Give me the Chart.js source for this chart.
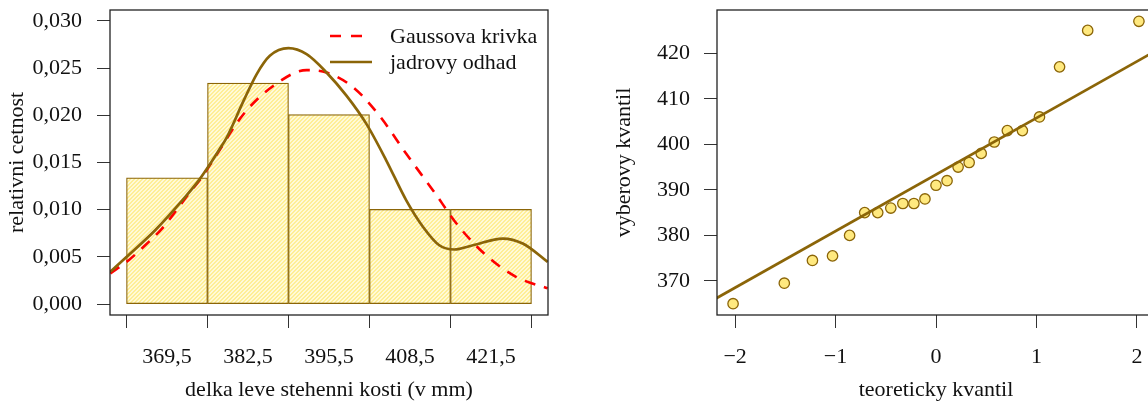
<!DOCTYPE html>
<html>
<head>
<meta charset="utf-8">
<script src="https://cdn.jsdelivr.net/npm/chart.js@4.4.0/dist/chart.umd.min.js"></script>
<style>
    html, body { margin: 0; padding: 0; background: #fff; overflow: hidden; width: 1148px; height: 404px; }
    #histChart { position: absolute; left: 0; top: 0; }
    #qqChart { position: absolute; left: 574px; top: 0; }
</style>
</head>
<body>
<canvas id="histChart" width="574" height="404"></canvas>
<canvas id="qqChart" width="610" height="404"></canvas>
<script>
// ------------------------------------
// Data
// ------------------------------------
const binCenters = [369.5, 382.5, 395.5, 408.5, 421.5];
const binDensity = [0.01338, 0.02341, 0.02007, 0.01003, 0.01003];
const histYTicks = [0, 0.005, 0.010, 0.015, 0.020, 0.025, 0.030];

const kdeX = [360.4, 362.9, 367.6, 372.4, 374.6, 375.9, 377.8, 379.1, 381.8, 383.9, 386.0, 389.0, 391.9, 395.1, 398.3, 401.5, 404.7, 407.9, 410.6, 413.2, 415.6, 418.6, 423.4, 426.6, 430.6];
const kdeY = [0.00341, 0.00493, 0.00782, 0.01133, 0.0131, 0.01433, 0.01627, 0.01767, 0.02155, 0.02437, 0.0263, 0.02711, 0.02648, 0.02454, 0.02208, 0.01909, 0.01521, 0.01099, 0.00817, 0.00623, 0.00578, 0.00623, 0.00694, 0.00641, 0.00447];

const gaussX = [360.4, 363.35, 366.0, 368.7, 370.8, 373.0, 375.1, 377.2, 381.8, 386.6, 391.9, 395.1, 399.4, 403.6, 407.9, 412.2, 416.4, 420.7, 425.5, 430.6];
const gaussY = [0.00324, 0.00465, 0.00623, 0.008, 0.00975, 0.01169, 0.01345, 0.01556, 0.02014, 0.02313, 0.02479, 0.02454, 0.02296, 0.01996, 0.01592, 0.01204, 0.00817, 0.00518, 0.00289, 0.00166];

const theoQ = [-2.02, -1.51, -1.23, -1.03, -0.86, -0.71, -0.58, -0.45, -0.33, -0.22, -0.11, 0, 0.11, 0.22, 0.33, 0.45, 0.58, 0.71, 0.86, 1.03, 1.23, 1.51, 2.02];
const sampleQ = [365, 369.5, 374.5, 375.5, 380, 385, 385, 386, 387, 387, 388, 391, 392, 395, 396, 398, 400.5, 403, 403, 406, 417, 425, 427];
const qqLineX = [-2.5, 2.5];
const qqLineY = [362.3, 424.4];
const qqXTicks = [-2, -1, 0, 1, 2];
const qqYTicks = [370, 380, 390, 400, 410, 420];

const legendLabels = ['Gaussova krivka', 'jadrovy odhad'];

// ------------------------------------
// Styles
// ------------------------------------
const FONT = "'Liberation Serif', 'DejaVu Serif', serif";
const FSIZE = 22;
const TEXT = '#111';
const BROWN = '#8B6508';
const RED = '#FF0000';

function hatchPattern() {
    const c = document.createElement('canvas');
    c.width = 4; c.height = 4;
    const g = c.getContext('2d');
    const img = g.createImageData(4, 4);
    for (let y = 0; y < 4; y++) {
        for (let x = 0; x < 4; x++) {
            const i = (y * 4 + x) * 4;
            const on = ((x + y) % 4) < 2;
            img.data[i] = 255;
            img.data[i + 1] = on ? 238 : 250;
            img.data[i + 2] = on ? 150 : 215;
            img.data[i + 3] = 255;
        }
    }
    g.putImageData(img, 0, 0);
    return g.createPattern(c, 'repeat');
}

function fixedTicks(values) {
    return function(scale) {
        scale.ticks = values.map(v => ({ value: v }));
    };
}

// fixed axis size, and no extra room for overhanging labels
function fixSize(key, size) {
    return function(scale) {
        scale[key] = size;
        scale.paddingTop = 0;
        scale.paddingBottom = 0;
        scale.paddingLeft = 0;
        scale.paddingRight = 0;
    };
}

// box round the plot region, like R
const boxPlugin = {
    id: 'box',
    afterDraw(chart) {
        const a = chart.chartArea;
        const ctx = chart.ctx;
        ctx.save();
        ctx.strokeStyle = '#222';
        ctx.lineWidth = 1.3;
        ctx.strokeRect(a.left, a.top, a.right - a.left, a.bottom - a.top);
        ctx.restore();
    }
};

const legendPlugin = {
    id: 'rLegend',
    afterDatasetsDraw(chart) {
        const a = chart.chartArea;
        const ctx = chart.ctx;
        const x0 = a.right - 218;
        const rows = [
            { y: a.top + 26, color: RED, dash: [11, 10], text: legendLabels[0] },
            { y: a.top + 52, color: BROWN, dash: [], text: legendLabels[1] }
        ];
        ctx.save();
        rows.forEach(r => {
            ctx.beginPath();
            ctx.setLineDash(r.dash);
            ctx.strokeStyle = r.color;
            ctx.lineWidth = 2.6;
            ctx.moveTo(x0, r.y);
            ctx.lineTo(x0 + 42, r.y);
            ctx.stroke();
            ctx.setLineDash([]);
            ctx.fillStyle = TEXT;
            ctx.font = FSIZE + 'px ' + FONT;
            ctx.textBaseline = 'middle';
            ctx.textAlign = 'left';
            ctx.fillText(r.text, x0 + 60, r.y + 1);
        });
        ctx.restore();
    }
};

function axisBase(extra) {
    return Object.assign({
        type: 'linear',
        offset: false,
        grid: { display: true, drawOnChartArea: false, drawTicks: true, tickLength: 13, color: '#333', lineWidth: 1 },
        border: { display: false },
        ticks: { color: TEXT, font: { family: FONT, size: FSIZE }, autoSkip: false, maxRotation: 0 },
        title: { display: true, color: TEXT, font: { family: FONT, size: FSIZE } }
    }, extra);
}

// ------------------------------------
// Histogram with the two density curves
// ------------------------------------
new Chart(document.getElementById('histChart'), {
    type: 'bar',
    data: {
        datasets: [
            {
                type: 'line',
                data: kdeX.map((x, i) => ({ x: x, y: kdeY[i] })),
                borderColor: BROWN,
                borderWidth: 2.7,
                pointRadius: 0,
                cubicInterpolationMode: 'monotone',
                fill: false
            },
            {
                type: 'line',
                data: gaussX.map((x, i) => ({ x: x, y: gaussY[i] })),
                borderColor: RED,
                borderWidth: 2.6,
                borderDash: [11, 9],
                pointRadius: 0,
                cubicInterpolationMode: 'monotone',
                fill: false
            },
            {
                type: 'bar',
                data: binCenters.map((x, i) => ({ x: x, y: binDensity[i] })),
                backgroundColor: hatchPattern(),
                borderColor: BROWN,
                borderWidth: 1.2,
                borderSkipped: false,
                barPercentage: 1,
                categoryPercentage: 1,
                grouped: false
            }
        ]
    },
    options: {
        responsive: false,
        animation: false,
        events: [],
        layout: { padding: { left: 0, top: 10, right: 26, bottom: 0 } },
        plugins: { legend: { display: false }, tooltip: { enabled: false } },
        scales: {
            x: axisBase({
                min: 360.35, max: 430.65,
                afterBuildTicks: fixedTicks(binCenters),
                afterFit: fixSize('height', 89),
                ticks: { color: TEXT, font: { family: FONT, size: FSIZE }, autoSkip: false, maxRotation: 0, padding: 16,
                         callback: v => v.toFixed(1).replace('.', ',') },
                title: { display: true, text: 'delka leve stehenni kosti (v mm)', color: TEXT,
                         font: { family: FONT, size: FSIZE }, padding: { top: 0, bottom: 1 } }
            }),
            y: axisBase({
                min: -0.00116, max: 0.03116,
                afterBuildTicks: fixedTicks(histYTicks),
                afterFit: fixSize('width', 110),
                ticks: { color: TEXT, font: { family: FONT, size: FSIZE }, autoSkip: false, padding: 15,
                         callback: v => v.toFixed(3).replace('.', ',') },
                title: { display: true, text: 'relativni cetnost', color: TEXT,
                         font: { family: FONT, size: FSIZE }, padding: { top: 4, bottom: 0 } }
            })
        }
    },
    plugins: [boxPlugin, legendPlugin]
});

// ------------------------------------
// Q-Q plot
// ------------------------------------
new Chart(document.getElementById('qqChart'), {
    type: 'scatter',
    data: {
        datasets: [
            {
                type: 'line',
                data: qqLineX.map((x, i) => ({ x: x, y: qqLineY[i] })),
                borderColor: BROWN,
                borderWidth: 2.7,
                pointRadius: 0,
                fill: false
            },
            {
                data: theoQ.map((x, i) => ({ x: x, y: sampleQ[i] })),
                backgroundColor: '#FFE97F',
                borderColor: BROWN,
                borderWidth: 1.3,
                pointRadius: 5.2
            }
        ]
    },
    options: {
        responsive: false,
        animation: false,
        events: [],
        layout: { padding: { left: 0, top: 10, right: 29, bottom: 0 } },
        plugins: { legend: { display: false }, tooltip: { enabled: false } },
        scales: {
            x: axisBase({
                min: -2.18, max: 2.18,
                afterBuildTicks: fixedTicks(qqXTicks),
                afterFit: fixSize('height', 89),
                ticks: { color: TEXT, font: { family: FONT, size: FSIZE }, autoSkip: false, maxRotation: 0, padding: 16,
                         callback: v => v < 0 ? '\u2212' + Math.abs(v) : String(v) },
                title: { display: true, text: 'teoreticky kvantil', color: TEXT,
                         font: { family: FONT, size: FSIZE }, padding: { top: 0, bottom: 1 } }
            }),
            y: axisBase({
                min: 362.52, max: 429.48,
                afterBuildTicks: fixedTicks(qqYTicks),
                afterFit: fixSize('width', 143),
                ticks: { color: TEXT, font: { family: FONT, size: FSIZE }, autoSkip: false, padding: 14 },
                title: { display: true, text: 'vyberovy kvantil', color: TEXT,
                         font: { family: FONT, size: FSIZE }, padding: { top: 37, bottom: 0 } }
            })
        }
    },
    plugins: [boxPlugin]
});
</script>
</body>
</html>
